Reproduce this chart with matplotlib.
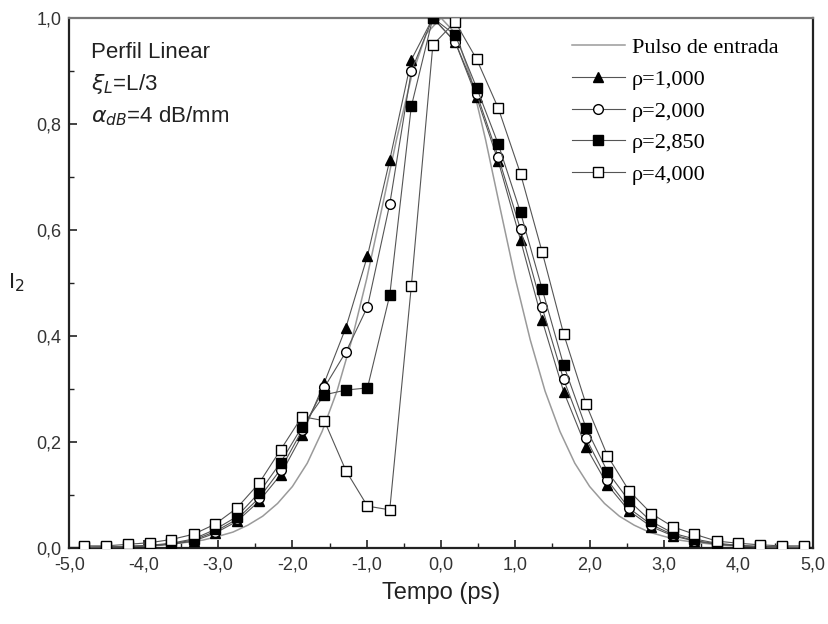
import matplotlib
matplotlib.use("Agg")
import matplotlib.pyplot as plt
from matplotlib.ticker import MultipleLocator, FuncFormatter

# ---- data -------------------------------------------------------------
t_in = [-5.0, -4.8, -4.6, -4.4, -4.2, -4.0, -3.8, -3.6, -3.4, -3.2, -3.0,
        -2.8, -2.6, -2.4, -2.2, -2.0, -1.8, -1.6, -1.4, -1.2, -1.0,
        -0.8, -0.6, -0.4, -0.2, 0.0, 0.2, 0.4, 0.6, 0.8, 1.0,
        1.2, 1.4, 1.6, 1.8, 2.0, 2.2, 2.4, 2.6, 2.8, 3.0,
        3.2, 3.4, 3.6, 3.8, 4.0, 4.2, 4.4, 4.6, 4.8, 5.0]
i_in = [0.001, 0.001, 0.001, 0.002, 0.003, 0.004, 0.005, 0.008, 0.011, 0.015, 0.022,
        0.030, 0.043, 0.060, 0.084, 0.116, 0.160, 0.220, 0.296, 0.393, 0.508,
        0.638, 0.770, 0.888, 0.970, 1.000, 0.970, 0.888, 0.770, 0.638, 0.508,
        0.393, 0.296, 0.220, 0.160, 0.116, 0.084, 0.060, 0.043, 0.030, 0.022,
        0.015, 0.011, 0.008, 0.005, 0.004, 0.003, 0.002, 0.001, 0.001, 0.001]

t = [-4.80, -4.51, -4.21, -3.92, -3.63, -3.33, -3.04, -2.75, -2.45, -2.16,
     -1.87, -1.57, -1.28, -0.99, -0.69, -0.40, -0.11, 0.19, 0.48, 0.77,
     1.07, 1.36, 1.65, 1.95, 2.24, 2.53, 2.83, 3.12, 3.41, 3.71,
     4.00, 4.29, 4.59, 4.88]

rho_1000 = [0.001, 0.002, 0.002, 0.004, 0.007, 0.013, 0.028, 0.050, 0.088, 0.138,
            0.213, 0.312, 0.416, 0.551, 0.732, 0.921, 1.000, 0.955, 0.850, 0.730,
            0.581, 0.430, 0.295, 0.191, 0.119, 0.070, 0.040, 0.023, 0.013, 0.007,
            0.004, 0.002, 0.001, 0.001]
rho_2000 = [0.001, 0.002, 0.003, 0.004, 0.008, 0.015, 0.031, 0.054, 0.094, 0.148,
            0.222, 0.303, 0.370, 0.455, 0.649, 0.900, 1.000, 0.955, 0.857, 0.738,
            0.601, 0.454, 0.318, 0.207, 0.128, 0.075, 0.044, 0.025, 0.014, 0.008,
            0.004, 0.002, 0.001, 0.001]
rho_2850 = [0.001, 0.002, 0.003, 0.005, 0.009, 0.017, 0.035, 0.059, 0.104, 0.161,
            0.229, 0.289, 0.298, 0.302, 0.477, 0.833, 1.000, 0.968, 0.868, 0.762,
            0.633, 0.489, 0.345, 0.227, 0.144, 0.089, 0.050, 0.028, 0.017, 0.009,
            0.005, 0.003, 0.002, 0.001]
rho_4000 = [0.004, 0.004, 0.007, 0.010, 0.016, 0.026, 0.045, 0.075, 0.122, 0.185,
            0.248, 0.240, 0.146, 0.079, 0.072, 0.494, 0.949, 0.993, 0.922, 0.830,
            0.706, 0.559, 0.404, 0.272, 0.174, 0.108, 0.065, 0.040, 0.026, 0.013,
            0.009, 0.006, 0.004, 0.004]

labels = ["Pulso de entrada", "\u03c1=1,000", "\u03c1=2,000", "\u03c1=2,850", "\u03c1=4,000"]
xticks = [-5.0, -4.0, -3.0, -2.0, -1.0, 0.0, 1.0, 2.0, 3.0, 4.0, 5.0]
yticks = [0.0, 0.2, 0.4, 0.6, 0.8, 1.0]

# ---- figure -----------------------------------------------------------
fig = plt.figure(figsize=(8.29, 6.24), dpi=100)
ax = fig.add_axes([0.0838, 0.1218, 0.8964, 0.8494])

line_c = "#555555"
ax.plot(t_in, i_in, color="#9a9a9a", lw=1.1, label=labels[0], zorder=2)
ax.plot(t, rho_1000, color=line_c, lw=0.8, marker="^", ms=7.5, mfc="black",
        mec="black", label=labels[1], zorder=3)
ax.plot(t, rho_2000, color=line_c, lw=0.8, marker="o", ms=7, mfc="white",
        mec="black", mew=1.0, label=labels[2], zorder=4)
ax.plot(t, rho_2850, color=line_c, lw=0.8, marker="s", ms=6.5, mfc="black",
        mec="black", label=labels[3], zorder=5)
ax.plot(t, rho_4000, color=line_c, lw=0.8, marker="s", ms=6.5, mfc="white",
        mec="black", mew=1.0, label=labels[4], zorder=6)

ax.set_xlim(-5.0, 5.0)
ax.set_ylim(0.0, 1.0)
ax.set_xticks(xticks)
ax.set_yticks(yticks)
ax.xaxis.set_minor_locator(MultipleLocator(0.5))
ax.yaxis.set_minor_locator(MultipleLocator(0.1))
fmt = FuncFormatter(lambda v, p: f"{v:.1f}".replace(".", ","))
ax.xaxis.set_major_formatter(fmt)
ax.yaxis.set_major_formatter(fmt)

ax.tick_params(which="both", direction="in", top=False, right=False,
               colors="#222222")
ax.tick_params(which="major", length=6, width=1.2, labelsize=13,
               labelcolor="#333333", pad=6)
ax.tick_params(which="minor", length=3.5, width=1.0)
for side in ["left", "bottom", "right", "top"]:
    ax.spines[side].set_linewidth(1.6)
    ax.spines[side].set_color("#222222")
ax.spines["top"].set_color("#777777")
for lbl in ax.get_xticklabels() + ax.get_yticklabels():
    lbl.set_family(["Liberation Sans", "DejaVu Sans"])

ax.set_xlabel("Tempo (ps)", fontsize=17, family=["Liberation Sans", "DejaVu Sans"],
              color="#222222", labelpad=6)
ax.set_ylabel("I$_2$", fontsize=16, family=["Liberation Sans", "DejaVu Sans"],
              color="#222222", rotation=0, labelpad=14, va="center")

tfam = ["Liberation Sans", "DejaVu Sans"]
ax.text(0.029, 0.935, "Perfil Linear", transform=ax.transAxes, fontsize=16,
        family=tfam, color="#222222", va="center")
ax.text(0.029, 0.875, r"$\xi_{L}$=L/3", transform=ax.transAxes, fontsize=16,
        family=tfam, color="#222222", va="center")
ax.text(0.029, 0.815, r"$\alpha_{dB}$=4 dB/mm", transform=ax.transAxes, fontsize=16,
        family=tfam, color="#222222", va="center")

leg = ax.legend(loc="upper right", bbox_to_anchor=(0.972, 0.988), frameon=False,
                prop={"family": ["Liberation Serif", "DejaVu Serif"], "size": 16},
                handlelength=2.4, handletextpad=0.3, labelspacing=0.5,
                borderaxespad=0.2)

fig.savefig("out.png", dpi=100)
